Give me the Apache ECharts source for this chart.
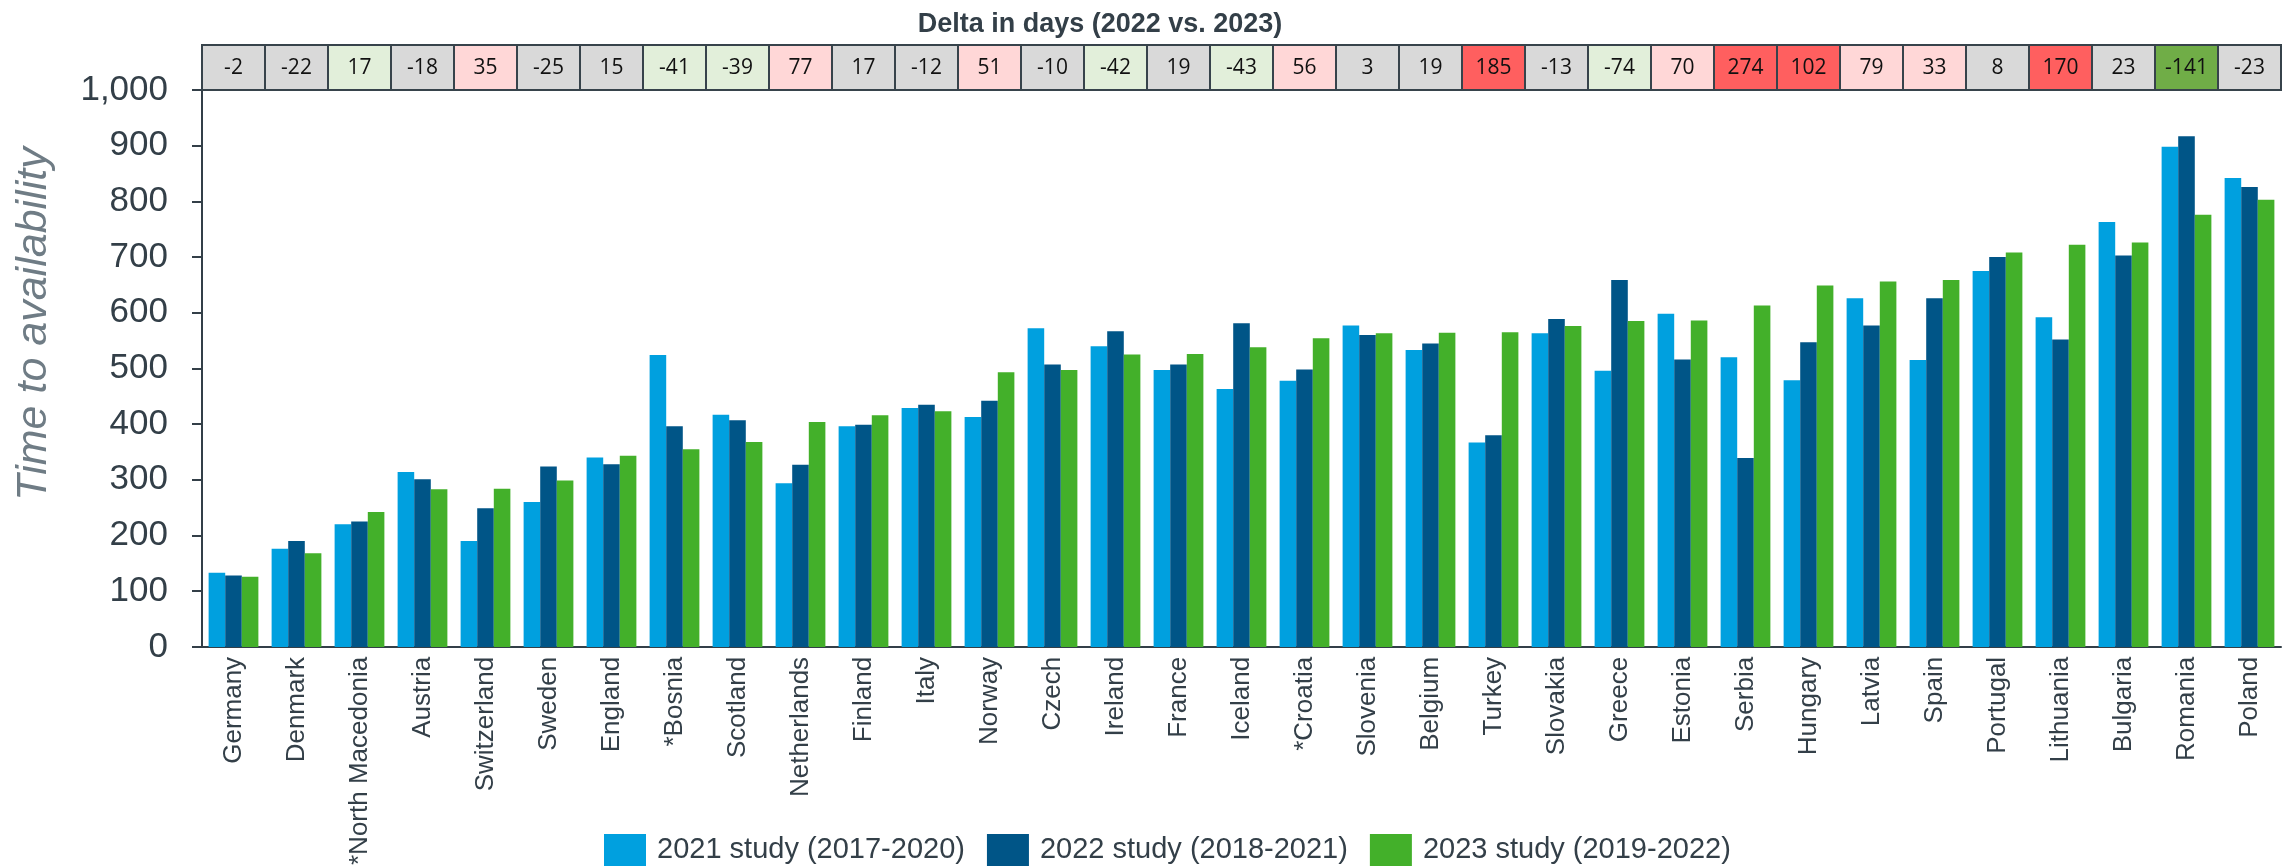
<!DOCTYPE html>
<html>
<head>
<meta charset="utf-8">
<script src="https://cdn.jsdelivr.net/npm/echarts@6/dist/echarts.min.js"></script>
<style>
  html, body { margin: 0; padding: 0; background: #ffffff; }
  #chart { width: 2295px; height: 868px; }
</style>
</head>
<body>
<div id="chart"></div>
<script>
// Countries, ordered by the 2023 study result
const countries = [
  'Germany', 'Denmark', '*North Macedonia', 'Austria', 'Switzerland', 'Sweden', 'England',
  '*Bosnia', 'Scotland', 'Netherlands', 'Finland', 'Italy', 'Norway', 'Czech', 'Ireland',
  'France', 'Iceland', '*Croatia', 'Slovenia', 'Belgium', 'Turkey', 'Slovakia', 'Greece',
  'Estonia', 'Serbia', 'Hungary', 'Latvia', 'Spain', 'Portugal', 'Lithuania', 'Bulgaria',
  'Romania', 'Poland'
];

// Time to availability in days, per study
const study2021 = [
  133, 176, 220, 314, 190, 260, 340, 524, 417, 294, 396, 429, 413, 572, 540, 497, 463,
  478, 577, 533, 367, 563, 496, 598, 520, 479, 626, 515, 675, 592, 763, 898, 842
];
const study2022 = [
  128, 190, 225, 301, 249, 324, 328, 396, 407, 327, 399, 435, 442, 507, 567, 507, 581,
  498, 560, 545, 380, 589, 659, 516, 339, 547, 577, 626, 700, 552, 703, 917, 826
];
const study2023 = [
  126, 168, 242, 283, 284, 299, 343, 355, 368, 404, 416, 423, 493, 497, 525, 526, 538,
  554, 563, 564, 565, 576, 585, 586, 613, 649, 656, 659, 708, 722, 726, 776, 803
];

// Rating of the 2022 -> 2023 change:
// -2 strong improvement, -1 improvement, 0 neutral, 1 worse, 2 much worse
const deltaRating = [
  0, 0, -1, 0, 1, 0, 0, -1, -1, 1, 0, 0, 1, 0, -1, 0, -1,
  1, 0, 0, 2, 0, -1, 1, 2, 2, 1, 1, 0, 2, 0, -2, 0
];

const seriesNames = ['2021 study (2017-2020)', '2022 study (2018-2021)', '2023 study (2019-2022)'];
const yTicks = { min: 0, max: 1000, interval: 100 };

const FONT = '"Liberation Sans", Arial, Helvetica, sans-serif';
const INK = '#333f48';
const ratingFill = { '-2': '#70ad47', '-1': '#e2efda', '0': '#d9d9d9', '1': '#ffd7d7', '2': '#ff5f5f' };

const deltaData = countries.map((c, i) => [i, study2023[i] - study2022[i], deltaRating[i]]);

const chart = echarts.init(document.getElementById('chart'), null, { renderer: 'canvas', width: 2295, height: 868 });

chart.setOption({
  animation: false,
  backgroundColor: '#ffffff',
  textStyle: { fontFamily: FONT },
  title: {
    text: 'Delta in days (2022 vs. 2023)',
    left: 1095,
    textAlign: 'center',
    top: 6,
    textStyle: { fontFamily: FONT, fontSize: 27, fontWeight: 'bold', color: INK }
  },
  graphic: [
    {
      // Value axis title
      type: 'text',
      x: 34,
      y: 324,
      rotation: Math.PI / 2,
      silent: true,
      style: {
        text: 'Time to availability',
        align: 'center',
        verticalAlign: 'middle',
        fontFamily: FONT,
        fontSize: 43,
        fontStyle: 'italic',
        fill: '#6f7c85'
      }
    }
  ],
  legend: {
    data: seriesNames,
    left: 599,
    top: 829,
    icon: 'rect',
    itemWidth: 42,
    itemHeight: 32,
    itemGap: 22,
    textStyle: { fontFamily: FONT, fontSize: 29, color: INK, padding: [0, 0, 0, 6] }
  },
  grid: [
    { left: 202, right: 14, top: 90, bottom: 220 },
    { left: 202, right: 14, top: 45, height: 45 }
  ],
  xAxis: [
    {
      type: 'category',
      gridIndex: 0,
      data: countries,
      axisLine: { lineStyle: { color: INK, width: 2 } },
      axisTick: { show: false },
      axisLabel: { interval: 0, rotate: 90, margin: 10, fontSize: 26, color: INK, fontFamily: FONT }
    },
    {
      type: 'category',
      gridIndex: 1,
      data: countries,
      show: false
    }
  ],
  yAxis: [
    {
      type: 'value',
      gridIndex: 0,
      min: yTicks.min,
      max: yTicks.max,
      interval: yTicks.interval,
      axisLine: { show: true, lineStyle: { color: INK, width: 2 } },
      axisTick: { show: true, length: 10, lineStyle: { color: INK, width: 2 } },
      splitLine: { show: false },
      axisLabel: {
        fontSize: 35,
        color: INK,
        margin: 34,
        fontFamily: FONT,
        formatter: v => v.toLocaleString('en-US')
      }
    },
    { type: 'value', gridIndex: 1, min: 0, max: 1, show: false }
  ],
  series: [
    {
      name: seriesNames[0], type: 'bar', xAxisIndex: 0, yAxisIndex: 0,
      data: study2021, itemStyle: { color: '#00a0df' }, barGap: '0%', barCategoryGap: '21%'
    },
    {
      name: seriesNames[1], type: 'bar', xAxisIndex: 0, yAxisIndex: 0,
      data: study2022, itemStyle: { color: '#005587' }, barGap: '0%', barCategoryGap: '21%'
    },
    {
      name: seriesNames[2], type: 'bar', xAxisIndex: 0, yAxisIndex: 0,
      data: study2023, itemStyle: { color: '#43b02a' }, barGap: '0%', barCategoryGap: '21%'
    },
    {
      // Row of change boxes above the plot, one per country
      type: 'custom',
      xAxisIndex: 1,
      yAxisIndex: 1,
      silent: true,
      data: deltaData,
      encode: { x: 0, y: 1 },
      renderItem: function (params, api) {
        const i = api.value(0);
        const delta = api.value(1);
        const rating = api.value(2);
        const top = api.coord([i, 1]);
        const bottom = api.coord([i, 0]);
        const w = api.size([1, 0])[0];
        return {
          type: 'group',
          children: [
            {
              type: 'rect',
              shape: { x: top[0] - w / 2, y: top[1], width: w, height: bottom[1] - top[1] },
              style: { fill: ratingFill[String(rating)], stroke: '#37434b', lineWidth: 2 }
            },
            {
              type: 'text',
              style: {
                text: String(delta),
                x: top[0],
                y: (top[1] + bottom[1]) / 2 + 1,
                align: 'center',
                verticalAlign: 'middle',
                fontSize: 21,
                fontFamily: '"Open Sans", "Noto Sans", sans-serif',
                fill: '#111111'
              }
            }
          ]
        };
      }
    }
  ]
});
</script>
</body>
</html>
